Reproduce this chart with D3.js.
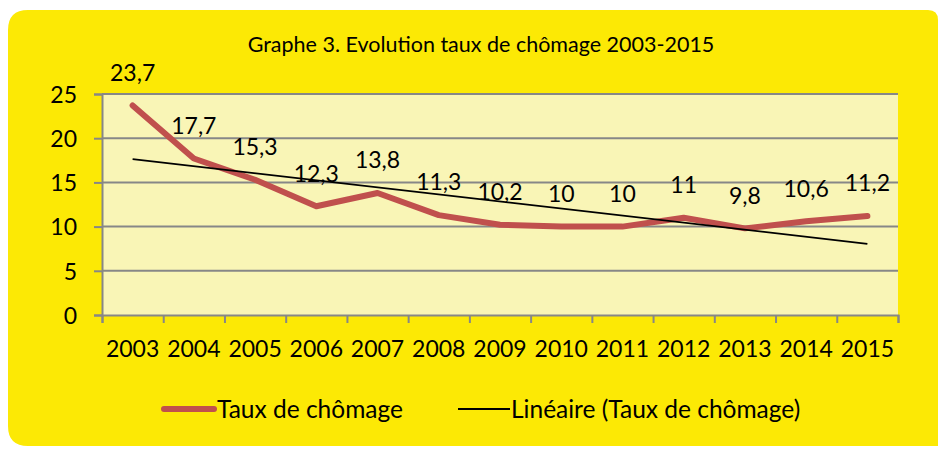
<!DOCTYPE html>
<html>
<head>
<meta charset="utf-8">
<script src="https://cdn.jsdelivr.net/npm/d3@7"></script>
<style>
  body { margin: 0; background: #fff; }
  text { font-family: Lato, "Open Sans", sans-serif; fill: #000; }
</style>
</head>
<body>
<div id="chart"></div>
<script>
// data
var years = ["2003","2004","2005","2006","2007","2008","2009","2010","2011","2012","2013","2014","2015"];
var rates = [23.7, 17.7, 15.3, 12.3, 13.8, 11.3, 10.2, 10, 10, 11, 9.8, 10.6, 11.2];
var yTicks = [0, 5, 10, 15, 20, 25];
var title = "Graphe 3. Evolution taux de chômage 2003-2015";
var seriesName = "Taux de chômage";
var trendName = "Linéaire (Taux de chômage)";

var W = 938, H = 449;
var plot = {left: 102, right: 898, top: 94, bottom: 315};

var svg = d3.select("#chart").append("svg")
    .attr("width", W)
    .attr("height", H);

// yellow card, top right corner tighter, bottom right runs off
var bx = 8, by = 10, br = 20, bb = 446;
svg.append("path")
    .attr("d", "M" + (bx + br) + "," + by +
      " L" + (W - 10) + "," + by +
      " Q" + W + "," + by + " " + W + "," + (by + 10) +
      " L" + W + "," + H +
      " L" + W + "," + bb +
      " L" + (bx + br) + "," + bb +
      " Q" + bx + "," + bb + " " + bx + "," + (bb - br) +
      " L" + bx + "," + (by + br) +
      " Q" + bx + "," + by + " " + (bx + br) + "," + by + " Z")
    .attr("fill", "#FCE905");

var x = d3.scaleBand().domain(years).range([plot.left, plot.right]);
var xEdge = d3.scaleLinear().domain([0, years.length]).range([plot.left, plot.right]);
var y = d3.scaleLinear().domain([0, 25]).range([plot.bottom, plot.top]);
var cx = function(d, i) { return x(years[i]) + x.bandwidth() / 2; };

// plot area
svg.append("rect")
    .attr("x", plot.left).attr("y", plot.top)
    .attr("width", plot.right - plot.left)
    .attr("height", plot.bottom - plot.top)
    .attr("fill", "#F9F5B6");

// gridlines
svg.selectAll(".grid")
    .data(yTicks.filter(function(d) { return d > 0; }))
  .enter().append("line")
    .attr("x1", plot.left).attr("x2", plot.right)
    .attr("y1", function(d) { return y(d); })
    .attr("y2", function(d) { return y(d); })
    .attr("stroke", "#878787")
    .attr("stroke-width", 2);

// y axis
var gy = svg.append("g")
    .attr("transform", "translate(" + plot.left + ",0)")
    .call(d3.axisLeft(y).tickValues(yTicks).tickSize(8).tickPadding(17));
gy.select(".domain").attr("stroke", "#878787").attr("stroke-width", 2);
gy.selectAll(".tick line").attr("stroke", "#878787").attr("stroke-width", 2);
gy.selectAll("text").style("font-size", "23px").attr("dy", "0.36em");

// x axis: ticks at category edges
var gx = svg.append("g")
    .attr("transform", "translate(0," + plot.bottom + ")")
    .call(d3.axisBottom(xEdge).tickValues(d3.range(years.length + 1)).tickSize(8).tickFormat(""));
gx.select(".domain").attr("stroke", "#878787").attr("stroke-width", 2);
gx.selectAll(".tick line").attr("stroke", "#878787").attr("stroke-width", 2);

var gxl = svg.append("g")
    .attr("transform", "translate(0," + plot.bottom + ")")
    .call(d3.axisBottom(x).tickSize(0).tickPadding(26));
gxl.select(".domain").remove();
gxl.selectAll("text").style("font-size", "23px");

// linear trend (least squares on the series)
var n = rates.length;
var xs = d3.range(1, n + 1);
var mx = d3.mean(xs), my = d3.mean(rates);
var slope = d3.sum(xs, function(v, i) { return (v - mx) * (rates[i] - my); }) /
            d3.sum(xs, function(v) { return (v - mx) * (v - mx); });
var icpt = my - slope * mx;
var trend = [0, n - 1].map(function(i) { return {i: i, v: icpt + slope * (i + 1)}; });

// series line
var line = d3.line()
    .x(function(d, i) { return cx(d, i); })
    .y(function(d) { return y(d); });
svg.append("path")
    .datum(rates)
    .attr("d", line)
    .attr("fill", "none")
    .attr("stroke", "#C0504D")
    .attr("stroke-width", 6)
    .attr("stroke-linecap", "round")
    .attr("stroke-linejoin", "round");

svg.append("path")
    .datum(trend)
    .attr("d", d3.line()
      .x(function(d) { return x(years[d.i]) + x.bandwidth() / 2; })
      .y(function(d) { return y(d.v); }))
    .attr("fill", "none")
    .attr("stroke", "#000")
    .attr("stroke-width", 1.8);

// value labels
svg.selectAll(".lbl")
    .data(rates)
  .enter().append("text")
    .attr("x", cx)
    .attr("y", function(d) { return y(d) - 33; })
    .attr("dy", "0.36em")
    .attr("text-anchor", "middle")
    .style("font-size", "23px")
    .text(function(d) { return String(d).replace(".", ","); });

// title
svg.append("text")
    .attr("x", 481).attr("y", 52)
    .attr("text-anchor", "middle")
    .style("font-size", "21.5px")
    .text(title);

// legend
var lg = svg.append("g");
lg.append("line")
    .attr("x1", 164).attr("x2", 214).attr("y1", 409).attr("y2", 409)
    .attr("stroke", "#C0504D").attr("stroke-width", 6).attr("stroke-linecap", "round");
lg.append("text").attr("x", 217).attr("y", 418).style("font-size", "24.5px").text(seriesName);
lg.append("line")
    .attr("x1", 458).attr("x2", 510).attr("y1", 409).attr("y2", 409)
    .attr("stroke", "#000").attr("stroke-width", 1.8);
lg.append("text").attr("x", 511).attr("y", 418).style("font-size", "24.5px").text(trendName);
</script>
</body>
</html>
